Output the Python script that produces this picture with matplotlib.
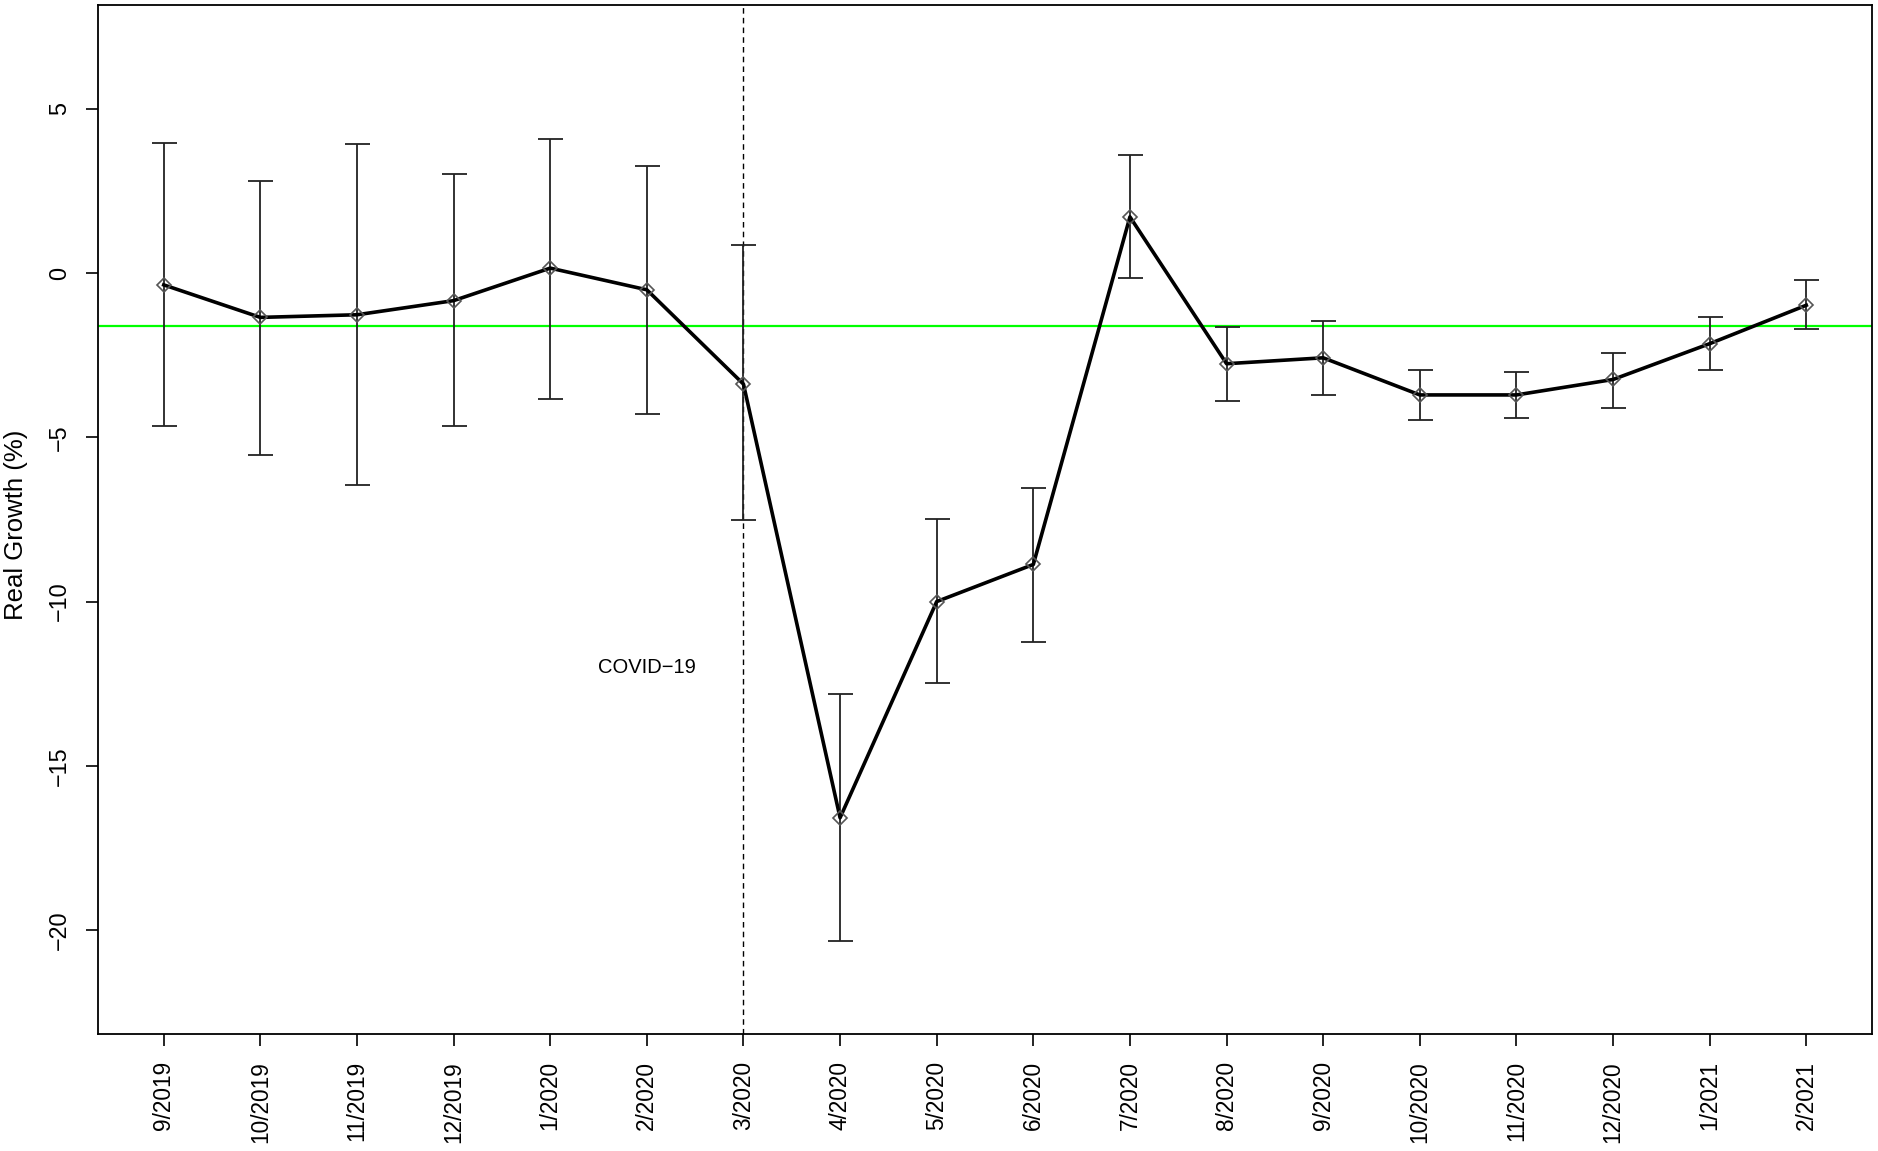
import matplotlib
matplotlib.use("Agg")
import matplotlib.pyplot as plt

plt.rcParams['font.family'] = ['Liberation Sans', 'DejaVu Sans']

# mesi e crescita reale (%) con intervalli
mesi = ["9/2019", "10/2019", "11/2019", "12/2019", "1/2020", "2/2020", "3/2020",
        "4/2020", "5/2020", "6/2020", "7/2020", "8/2020", "9/2020", "10/2020",
        "11/2020", "12/2020", "1/2021", "2/2021"]
crescita = [-0.36, -1.35, -1.27, -0.84, 0.15, -0.51, -3.38, -16.58, -10.0, -8.87,
            1.71, -2.76, -2.58, -3.71, -3.71, -3.24, -2.15, -0.98]
superiore = [3.96, 2.80, 3.93, 3.02, 4.07, 3.27, 0.84, -12.80, -7.49, -6.55,
             3.60, -1.64, -1.45, -2.95, -3.02, -2.44, -1.35, -0.22]
inferiore = [-4.65, -5.53, -6.44, -4.65, -3.82, -4.29, -7.53, -20.33, -12.47, -11.24,
             -0.15, -3.89, -3.71, -4.47, -4.40, -4.11, -2.95, -1.71]
media = -1.6
covid_mese = 7

x = list(range(1, len(mesi) + 1))
err_basso = [c - i for c, i in zip(crescita, inferiore)]
err_alto = [s - c for s, c in zip(superiore, crescita)]

fig = plt.figure(figsize=(18.78, 11.51), dpi=100)
ax = fig.add_axes([0.0522, 0.1017, 0.9446, 0.894])

ax.errorbar(x, crescita, yerr=[err_basso, err_alto], fmt="none", ecolor="#222222",
            elinewidth=1.3, capsize=9, capthick=1.3, zorder=2)
ax.plot(x, crescita, color="black", linewidth=2.6, zorder=3)
ax.plot(x, crescita, linestyle="none", marker="D", markersize=7,
        markerfacecolor="none", markeredgecolor="#555555", markeredgewidth=1.2, zorder=4)

ax.axhline(media, color="#00ff00", linewidth=1.6, zorder=1)
ax.axvline(covid_mese, color="black", linestyle=(0, (4, 3)), linewidth=1.0, zorder=1)
ax.text(6, -12, "COVID\u221219", ha="center", va="center", fontsize=14.5)

ax.set_xlim(0.32, 18.68)
ax.set_ylim(-23.16, 8.16)
ax.set_xticks(x)
ax.set_xticklabels(mesi, rotation=90, fontsize=16.3)
ax.set_yticks([-20, -15, -10, -5, 0, 5])
for lab in ax.get_yticklabels():
    lab.set_rotation(90)
    lab.set_va("center")
ax.tick_params(axis="y", labelsize=16.8, length=8.6, width=1.2, pad=10.8)
ax.tick_params(axis="x", length=8.6, width=1.2, pad=10.8)
for s in ax.spines.values():
    s.set_linewidth(1.3)
ax.set_ylabel("Real Growth (%)", fontsize=18.5, va="center")
ax.yaxis.set_label_coords(-0.0462, 0.495)

fig.savefig("out.png", dpi=100)
